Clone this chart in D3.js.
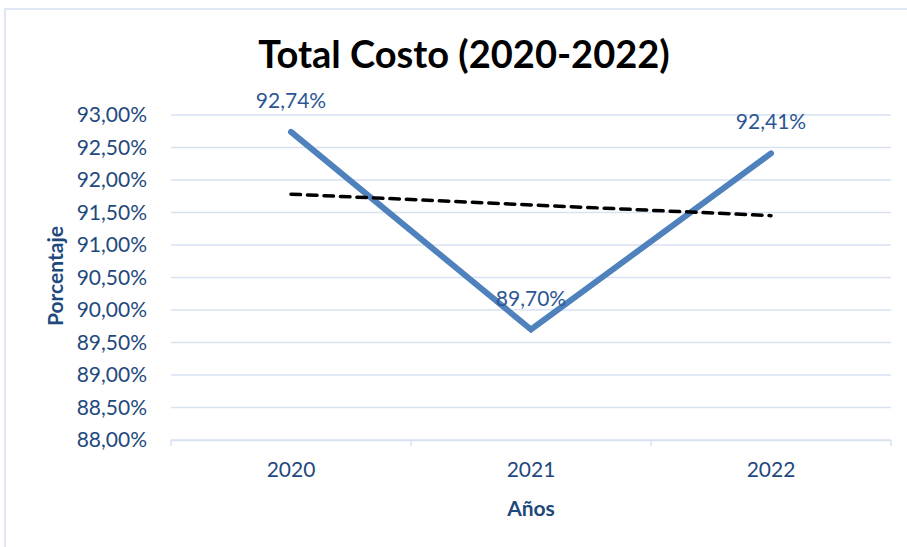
<!DOCTYPE html>
<html>
<head>
<meta charset="utf-8">
<script src="https://cdn.jsdelivr.net/npm/d3@7"></script>
<style>
  html, body { margin: 0; padding: 0; background: #fff; }
  svg { display: block; }
  text { font-family: Lato, "Open Sans", sans-serif; }
</style>
</head>
<body>
<svg id="chart" width="907" height="547"></svg>
<script>
// ---- data ----
const years = ["2020", "2021", "2022"];
const costo = [0.9274, 0.8970, 0.9241];
const yTicks = [0.88, 0.885, 0.89, 0.895, 0.90, 0.905, 0.91, 0.915, 0.92, 0.925, 0.93];
const titleText = "Total Costo (2020-2022)";
const xTitle = "Años";
const yTitle = "Porcentaje";

const locale = d3.formatLocale({decimal: ",", thousands: ".", grouping: [3], currency: ["", "€"], percent: "%"});
const fmt = locale.format(".2%");

const svg = d3.select("#chart");
const W = 907, H = 547;
const m = {left: 171, right: 16, top: 115, bottom: 107};
const x = d3.scaleBand().domain(years).range([m.left, W - m.right]).padding(0);
const y = d3.scaleLinear().domain([0.88, 0.93]).range([H - m.bottom, m.top]);

const textBlue = "#1f497d";
const gridCol = "#d9e2f3";

// chart frame
svg.append("rect").attr("x", 5).attr("y", 9).attr("width", 920).attr("height", 560)
  .attr("fill", "none").attr("stroke", "#d6e0f1").attr("stroke-width", 1.5);

// title
svg.append("text").attr("x", 464).attr("y", 68).attr("text-anchor", "middle")
  .attr("font-size", 38).attr("font-weight", 700).attr("fill", "#000").text(titleText);

// gridlines
svg.append("g").selectAll("line").data(yTicks).join("line")
  .attr("x1", m.left).attr("x2", W - m.right)
  .attr("y1", d => y(d)).attr("y2", d => y(d))
  .attr("stroke", gridCol).attr("stroke-width", 1.5);

// y axis labels
const yAxis = d3.axisLeft(y).tickValues(yTicks).tickFormat(fmt).tickSize(0).tickPadding(0);
const gy = svg.append("g").attr("transform", `translate(${m.left - 24},0)`).call(yAxis);
gy.select(".domain").remove();
gy.selectAll("text").attr("font-size", 21).attr("fill", textBlue).attr("font-family", "Lato");

// x axis
const xAxis = d3.axisBottom(x).tickSize(0).tickPadding(22);
const gx = svg.append("g").attr("transform", `translate(0,${y(0.88)})`).call(xAxis);
gx.select(".domain").attr("stroke", gridCol).attr("stroke-width", 1.5);
gx.selectAll("text").attr("font-size", 21).attr("fill", textBlue).attr("font-family", "Lato");
// category boundary tick marks
const bounds = years.map(d => x(d)).concat([x(years[years.length - 1]) + x.bandwidth()]);
gx.append("g").selectAll("line").data(bounds).join("line")
  .attr("x1", d => d).attr("x2", d => d).attr("y1", 0).attr("y2", 6)
  .attr("stroke", gridCol).attr("stroke-width", 1.5);

// axis titles
svg.append("text").attr("x", 531).attr("y", 516).attr("text-anchor", "middle")
  .attr("font-size", 21).attr("font-weight", 700).attr("fill", textBlue).text(xTitle);
svg.append("text").attr("transform", "translate(63,276) rotate(-90)").attr("text-anchor", "middle")
  .attr("font-size", 21).attr("font-weight", 700).attr("fill", textBlue).text(yTitle);

const cx = d => x(d) + x.bandwidth() / 2;

// series line
svg.append("path").datum(years.map((d, i) => ({d, v: costo[i]})))
  .attr("d", d3.line().x(p => cx(p.d)).y(p => y(p.v)))
  .attr("fill", "none").attr("stroke", "#4f81bd").attr("stroke-width", 6)
  .attr("stroke-linecap", "round").attr("stroke-linejoin", "miter");

// linear trendline (least squares on the series)
const xs = costo.map((_, i) => i + 1);
const mx = d3.mean(xs), my = d3.mean(costo);
const slope = d3.sum(xs.map((xi, i) => (xi - mx) * (costo[i] - my))) / d3.sum(xs.map(xi => (xi - mx) ** 2));
const icpt = my - slope * mx;
svg.append("path").datum(years.map((d, i) => ({d, v: icpt + slope * (i + 1)})))
  .attr("d", d3.line().x(p => cx(p.d)).y(p => y(p.v)))
  .attr("fill", "none").attr("stroke", "#000").attr("stroke-width", 3.5)
  .attr("stroke-dasharray", "9.5,7").attr("stroke-linecap", "round");

// data labels
svg.append("g").selectAll("text").data(years).join("text")
  .attr("x", d => cx(d)).attr("y", (d, i) => y(costo[i]) - 24)
  .attr("text-anchor", "middle").attr("font-size", 21).attr("fill", "#2b5693")
  .text((d, i) => fmt(costo[i]));
</script>
</body>
</html>
